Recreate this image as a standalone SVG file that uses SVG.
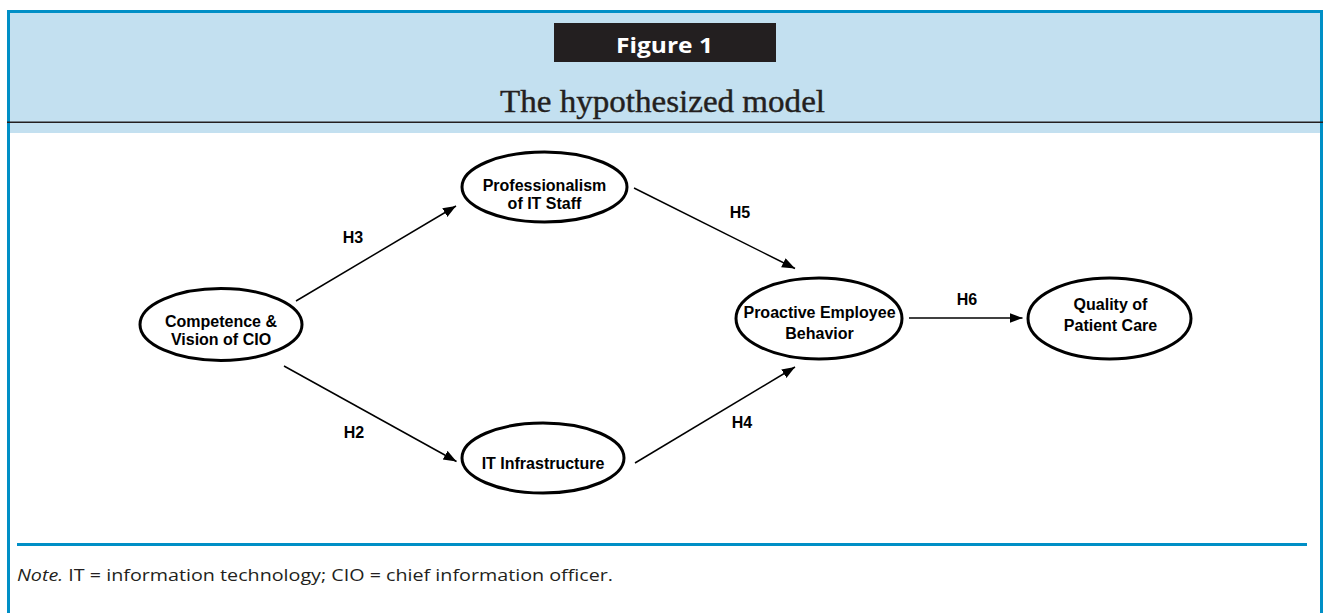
<svg xmlns="http://www.w3.org/2000/svg" width="1328" height="613" viewBox="0 0 1328 613">
  <style>
    .node ellipse { fill: #ffffff; stroke: #000000; stroke-width: 3; }
    .node text { font-family: "Liberation Sans", Arial, sans-serif; font-weight: bold; font-size: 16px; fill: #000000; text-anchor: middle; }
    .edge { stroke: #000000; stroke-width: 1.5; fill: none; marker-end: url(#arrow); }
    .elabel { font-family: "Liberation Sans", Arial, sans-serif; font-weight: bold; font-size: 16px; fill: #000000; text-anchor: middle; }
  </style>
  <defs>
    <marker id="arrow" markerUnits="userSpaceOnUse" markerWidth="14" markerHeight="12" refX="13" refY="5" orient="auto">
      <path d="M0,0 L13,5 L0,10 z" fill="#000000"/>
    </marker>
  </defs>

  <!-- frame -->
  <rect x="0" y="0" width="1328" height="613" fill="#ffffff"/>
  <rect x="10" y="13" width="1310" height="120" fill="#c3e0f0"/>
  <rect x="7" y="10" width="1316" height="3" fill="#008fc6"/>
  <rect x="7" y="10" width="3" height="603" fill="#008fc6"/>
  <rect x="1320" y="10" width="3" height="603" fill="#008fc6"/>
  <rect x="7" y="121.5" width="1316" height="1.5" fill="#231f20"/>
  <rect x="554" y="23" width="222" height="39" fill="#231f20"/>
  <text x="664.5" y="52.5" font-family="'Open Sans', 'Liberation Sans', sans-serif" font-weight="bold" font-size="22" fill="#ffffff" text-anchor="middle" textLength="97" lengthAdjust="spacingAndGlyphs">Figure 1</text>
  <text x="662.5" y="112" font-family="'Liberation Serif', 'Times New Roman', serif" font-size="31" fill="#231f20" stroke="#231f20" stroke-width="0.4" text-anchor="middle" textLength="325" lengthAdjust="spacingAndGlyphs">The hypothesized model</text>

  <rect x="17" y="543" width="1290" height="3" fill="#008fc6"/>
  <text x="17" y="581" font-family="'Open Sans', 'Liberation Sans', sans-serif" font-size="16.5" fill="#231f20" textLength="596" lengthAdjust="spacingAndGlyphs"><tspan font-style="italic">Note.</tspan> IT = information technology; CIO = chief information officer.</text>

  <g id="connectors">
    <line class="edge" x1="296" y1="301" x2="456" y2="206"/>
    <line class="edge" x1="284" y1="366" x2="456.5" y2="461.5"/>
    <line class="edge" x1="634" y1="188" x2="795" y2="268.5"/>
    <line class="edge" x1="635" y1="463" x2="795" y2="367"/>
    <line class="edge" x1="909" y1="318" x2="1022.5" y2="318"/>
    <text class="elabel" x="353" y="243">H3</text>
    <text class="elabel" x="354" y="438">H2</text>
    <text class="elabel" x="740" y="218">H5</text>
    <text class="elabel" x="742" y="428">H4</text>
    <text class="elabel" x="967" y="305">H6</text>
  </g>

  <g id="competence" class="node">
    <ellipse cx="221" cy="324.5" rx="81" ry="36"/>
    <text x="221" y="327" font-size="16.5">Competence &amp;</text>
    <text x="221" y="345" font-size="16.5">Vision of CIO</text>
  </g>
  <g id="professionalism" class="node">
    <ellipse cx="544.5" cy="187" rx="82.5" ry="35"/>
    <text x="544.5" y="190.5" font-size="16.5">Professionalism</text>
    <text x="544.5" y="209" font-size="16.5">of IT Staff</text>
  </g>
  <g id="infrastructure" class="node">
    <ellipse cx="543" cy="458" rx="81" ry="35"/>
    <text x="543" y="469" font-size="16.5">IT Infrastructure</text>
  </g>
  <g id="proactive" class="node">
    <ellipse cx="819" cy="318.5" rx="83" ry="40.5"/>
    <text x="819.5" y="318" font-size="15">Proactive Employee</text>
    <text x="819.5" y="339" font-size="15">Behavior</text>
  </g>
  <g id="quality" class="node">
    <ellipse cx="1109.5" cy="318.5" rx="81.5" ry="40.5"/>
    <text x="1110.5" y="310" font-size="16.5">Quality of</text>
    <text x="1110.5" y="331" font-size="16.5">Patient Care</text>
  </g>
</svg>
